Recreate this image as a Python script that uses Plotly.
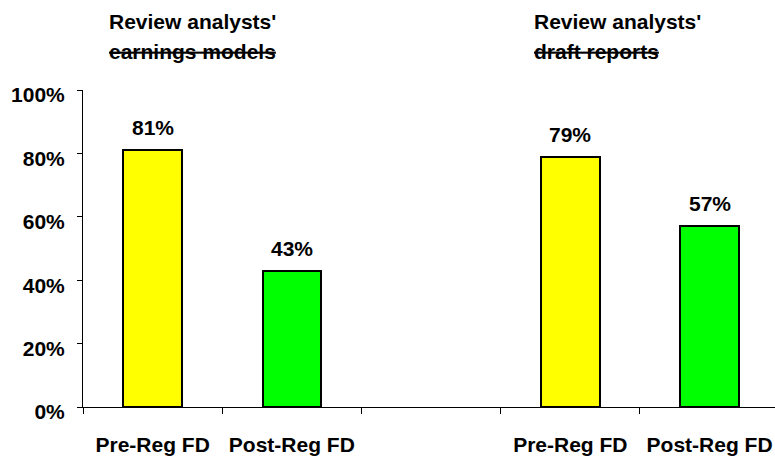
import plotly.graph_objects as go

# Survey results: share of companies that review analysts' work, before and after Reg FD
groups = ["Review analysts'<br><s>earnings models</s>", "Review analysts'<br><s>draft reports</s>"]
periods = ["Pre-Reg FD", "Post-Reg FD"]
models_pct = [81, 43]
reports_pct = [79, 57]

# slot positions on a 5-slot axis (middle slot left empty as a gap)
pre_x = [0.5, 3.5]
post_x = [1.5, 4.5]
pre_vals = [models_pct[0], reports_pct[0]]
post_vals = [models_pct[1], reports_pct[1]]

FONT = "Liberation Sans, Arial, sans-serif"
fsize = 21

W, H = 775, 458
ML, MR, MT, MB = 83, 0, 90, 51
PW, PH = W - ML - MR, H - MT - MB

fig = go.Figure()
fig.add_trace(go.Bar(x=pre_x, y=pre_vals, width=0.42,
                     marker=dict(color="#FFFF00", line=dict(color="#000000", width=2))))
fig.add_trace(go.Bar(x=post_x, y=post_vals, width=0.42,
                     marker=dict(color="#00FF00", line=dict(color="#000000", width=2))))

# value labels above bars
for xs, vs in ((pre_x, pre_vals), (post_x, post_vals)):
    for x, v in zip(xs, vs):
        fig.add_annotation(x=x, y=v, text=f"<b>{v}%</b>", showarrow=False,
                           yanchor="bottom", yshift=9,
                           font=dict(family=FONT, size=fsize, color="#000"))

# group headings (two lines each)
for gx, g in zip([107, 532], groups):
    for line, cy in zip(g.split("<br>"), [21, 51]):
        fig.add_annotation(x=(gx - ML) / PW, y=1 + (MT - cy) / PH,
                           xref="paper", yref="paper", xanchor="left",
                           yanchor="middle", text=f"<b>{line}</b>",
                           showarrow=False, font=dict(family=FONT, size=fsize, color="#000"))

tick_x = sorted(pre_x + post_x)
tick_text = [f"<b>{periods[0]}</b>", f"<b>{periods[1]}</b>"] * 2

fig.update_layout(
    width=W, height=H,
    margin=dict(l=ML, r=MR, t=MT, b=MB),
    paper_bgcolor="white", plot_bgcolor="white",
    showlegend=False, bargap=0,
    font=dict(family=FONT, size=fsize, color="#000"),
    xaxis=dict(range=[0, 4.97], tickvals=tick_x, ticktext=tick_text,
               ticks="", showline=True, linecolor="#000", linewidth=1,
               showgrid=False, zeroline=False, ticklabelstandoff=19,
               minor=dict(tick0=0, dtick=1, ticks="outside", ticklen=6,
                          tickcolor="#000", tickwidth=1, showgrid=False)),
    yaxis=dict(range=[0, 100], tickvals=[0, 20, 40, 60, 80, 100],
               ticktext=[f"<b>{v}%</b>" for v in [0, 20, 40, 60, 80, 100]],
               ticks="outside", ticklen=5, tickcolor="#000",
               showline=True, linecolor="#000", linewidth=1,
               showgrid=False, zeroline=False, ticklabelstandoff=8,
               ticklabelshift=5),
)

fig.write_html("out.html")
